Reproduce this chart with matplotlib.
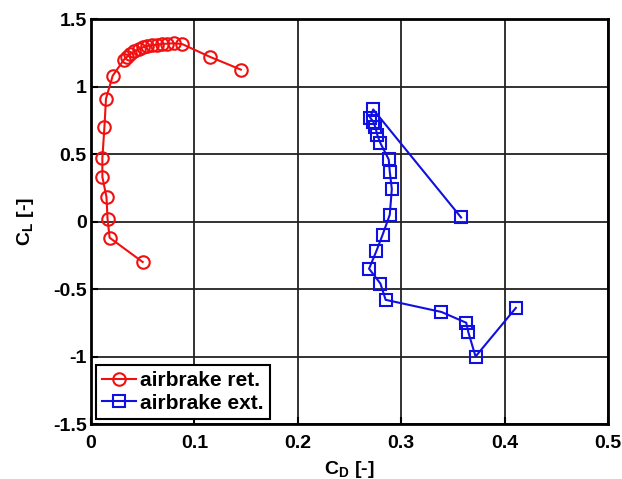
import matplotlib
matplotlib.use('Agg')
import matplotlib.pyplot as plt

plt.rcParams['font.family'] = ['Liberation Sans', 'DejaVu Sans']
plt.rcParams['font.weight'] = 'bold'
plt.rcParams['mathtext.fontset'] = 'custom'
plt.rcParams['mathtext.bf'] = 'Liberation Sans:bold'
plt.rcParams['mathtext.rm'] = 'Liberation Sans:bold'

# airbrake retracted
cd_ret = [0.050, 0.018, 0.016, 0.015, 0.011, 0.011, 0.013, 0.0145, 0.021,
          0.032, 0.035, 0.038, 0.042, 0.046, 0.050, 0.054, 0.059, 0.064,
          0.069, 0.074, 0.080, 0.088, 0.115, 0.145]
cl_ret = [-0.30, -0.12, 0.02, 0.18, 0.33, 0.47, 0.70, 0.91, 1.08,
          1.20, 1.22, 1.24, 1.26, 1.275, 1.29, 1.30, 1.305, 1.31,
          1.315, 1.318, 1.32, 1.315, 1.22, 1.125]

# airbrake extended
cd_ext = [0.411, 0.372, 0.365, 0.363, 0.339, 0.285, 0.280, 0.269, 0.276,
          0.282, 0.289, 0.291, 0.289, 0.288, 0.280, 0.277, 0.275, 0.273,
          0.270, 0.273, 0.358]
cl_ext = [-0.64, -1.00, -0.82, -0.75, -0.67, -0.58, -0.46, -0.35, -0.22,
          -0.10, 0.05, 0.24, 0.37, 0.46, 0.58, 0.64, 0.70, 0.74,
          0.77, 0.83, 0.03]

fig = plt.figure(figsize=(6.22, 4.79), dpi=100)
ax = fig.add_axes([0.1463, 0.1148, 0.831, 0.8455])

ax.plot(cd_ret, cl_ret, '-o', color='#f01010', lw=1.5, ms=9, mfc='none',
        mew=1.5, label='airbrake ret.')
ax.plot(cd_ext, cl_ext, '-s', color='#1010e0', lw=1.5, ms=8, mfc='none',
        mew=1.5, label='airbrake ext.')

ax.set_xlim(0, 0.5)
ax.set_ylim(-1.5, 1.5)
ax.set_xticks([0, 0.1, 0.2, 0.3, 0.4, 0.5])
ax.set_xticklabels(['0', '0.1', '0.2', '0.3', '0.4', '0.5'])
ax.set_yticks([-1.5, -1, -0.5, 0, 0.5, 1, 1.5])
ax.set_yticklabels(['-1.5', '-1', '-0.5', '0', '0.5', '1', '1.5'])
ax.grid(True, color='#222222', lw=1.3)
ax.tick_params(direction='in', length=5, width=1.5, labelsize=14)
ax.tick_params(axis='x', pad=8)
ax.tick_params(axis='y', pad=3)
for sp in ax.spines.values():
    sp.set_linewidth(2)

ax.set_xlabel(r'C$_\mathbf{D}$ [-]', fontsize=14, fontweight='bold', labelpad=5)
ax.set_ylabel(r'C$_\mathbf{L}$ [-]', fontsize=14, fontweight='bold', labelpad=12)

leg = ax.legend(loc='lower left', fontsize=15, frameon=True, fancybox=False,
                borderaxespad=0.25, handlelength=1.6, handletextpad=0.2,
                borderpad=0.3, labelspacing=0.15)
leg.get_frame().set_edgecolor('black')
leg.get_frame().set_linewidth(1.5)
leg.get_frame().set_alpha(1)

fig.savefig('out.png', dpi=100)
